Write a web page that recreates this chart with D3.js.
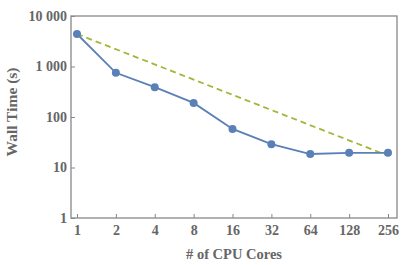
<!DOCTYPE html>
<html><head><meta charset="utf-8">
<script src="https://cdn.jsdelivr.net/npm/d3@7"></script>
<style>body{margin:0;background:#fff}svg text{font-family:"Liberation Serif",serif;font-weight:bold;fill:#666}</style>
</head><body><svg id="c" width="409" height="265"></svg>
<script>
const cores = [1, 2, 4, 8, 16, 32, 64, 128, 256];
const wallTime = [4400, 750, 390, 190, 58, 29, 18.5, 19.5, 19.5];
const idealTime = [4400, 17.2];
const idealCores = [1, 256];
const yTicks = [1, 10, 100, 1000, 10000];
const xLabel = "# of CPU Cores";
const yLabel = "Wall Time (s)";

const svg = d3.select("#c");
const L = 71, R = 397, T = 16, B = 218;
const x = d3.scaleLog().base(2).domain([1, 256]).range([77, 388]);
const y = d3.scaleLog().domain([1, 10000]).range([B, T]);
const fmt = d => d3.format(",")(d).replace(/,/g, " ");

svg.append("rect").attr("x", L).attr("y", T).attr("width", R - L).attr("height", B - T)
  .attr("fill", "none").attr("stroke", "#888").attr("stroke-width", 1.3);

const xa = svg.append("g").attr("transform", `translate(0,${B})`)
  .call(d3.axisBottom(x).tickValues(cores).tickFormat(d => d).tickSize(-4).tickPadding(7));
const ya = svg.append("g").attr("transform", `translate(${L},0)`)
  .call(d3.axisLeft(y).tickValues(yTicks).tickFormat(fmt).tickSize(-4).tickPadding(4));
[xa, ya].forEach(g => {
  g.attr("font-size", null).attr("font-family", null);
  g.select(".domain").remove();
  g.selectAll(".tick line").attr("stroke", "#888");
  g.selectAll("text").style("font-size", "14px").style("font-family", '"Liberation Serif",serif').style("fill", "#666");
});

svg.append("path").datum(idealCores.map((c, i) => [c, idealTime[i]]))
  .attr("d", d3.line().x(d => x(d[0])).y(d => y(d[1])))
  .attr("fill", "none").attr("stroke", "#9cba38").attr("stroke-width", 1.8).attr("stroke-dasharray", "6,4");

svg.append("path").datum(cores.map((c, i) => [c, wallTime[i]]))
  .attr("d", d3.line().x(d => x(d[0])).y(d => y(d[1])))
  .attr("fill", "none").attr("stroke", "#5b7fb7").attr("stroke-width", 1.8);

svg.selectAll("circle.p").data(cores).join("circle")
  .attr("cx", d => x(d)).attr("cy", (d, i) => y(wallTime[i])).attr("r", 4)
  .attr("fill", "#5b7fb7");

svg.append("text").attr("x", (L + R) / 2).attr("y", 259).attr("text-anchor", "middle")
  .style("font-size", "14.5px").text(xLabel);
svg.append("text").attr("transform", `translate(17,112) rotate(-90)`).attr("text-anchor", "middle")
  .style("font-size", "15.5px").text(yLabel);
</script></body></html>
